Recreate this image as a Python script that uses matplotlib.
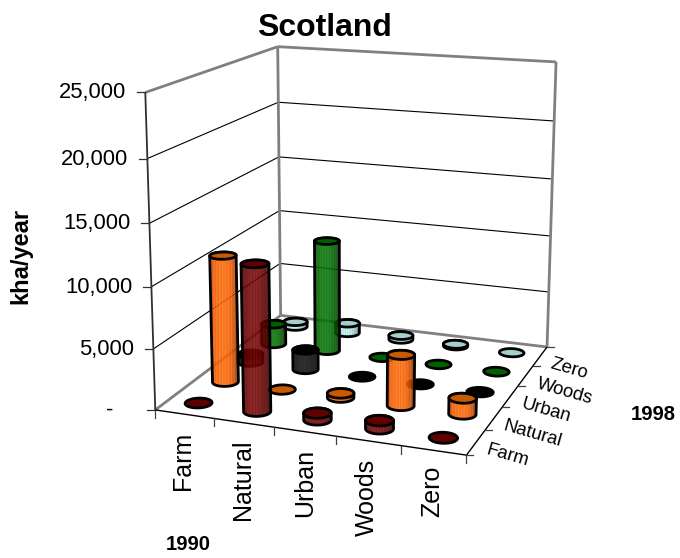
"""
Scotland land use change, 1990 to 1998, as a 3D cylinder chart
"""

import numpy as np
import matplotlib
matplotlib.use('Agg')
import matplotlib.pyplot as plt
from matplotlib.patches import Polygon

matplotlib.rcParams['font.family'] = ['Liberation Sans', 'DejaVu Sans']

categories = ['Farm', 'Natural', 'Urban', 'Woods', 'Zero']
z_ticks = [0, 5000, 10000, 15000, 20000, 25000]
z_tick_labels = ['-', '5,000', '10,000', '15,000', '20,000', '25,000']

# kha/year per 1990 class (columns) for each 1998 class
farm_1998 = [0, 11900, 550, 650, 0]
natural_1998 = [10700, 0, 350, 4200, 1300]
urban_1998 = [700, 1700, 0, 0, 0]
woods_1998 = [1800, 9800, 0, 0, 0]
zero_1998 = [450, 900, 350, 150, 0]
series = [farm_1998, natural_1998, urban_1998, woods_1998, zero_1998]

# (body colour, lid colour)
series_colours = [('#6b0000', '#600000'), ('#ff6000', '#c85a00'), ('#0a0a0a', '#000000'),
                  ('#006a00', '#006000'), ('#abdede', '#a6cfcf')]

Z_MAX = 25000.0
RADIUS = 0.21
BODY_ALPHA = 0.88
GREY = '#808080'

# box corners (category, series, value) and where they land on the canvas
box_points = [(0, 0, 0), (5, 0, 0), (5, 5, 0), (0, 5, 0), (0, 0, 25000), (0, 5, 25000), (5, 5, 25000)]
canvas_points = [(156, 410.5), (466, 455), (547.5, 347), (280, 315), (145, 92), (278, 47), (556, 62)]


def fit_camera(box, canvas):
    """Least squares 3x4 perspective matrix"""
    rows, rhs = [], []
    for (x, y, z), (u, v) in zip(box, canvas):
        z = z / Z_MAX * 5
        rows.append([x, y, z, 1, 0, 0, 0, 0, -u * x, -u * y, -u * z])
        rhs.append(u)
        rows.append([0, 0, 0, 0, x, y, z, 1, -v * x, -v * y, -v * z])
        rhs.append(v)
    p = np.linalg.lstsq(np.array(rows, float), np.array(rhs, float), rcond=None)[0]
    return np.append(p, 1.0).reshape(3, 4)


CAM = fit_camera(box_points, canvas_points)


def project(x, y, z):
    x, y, z = np.broadcast_arrays(np.asarray(x, float), np.asarray(y, float), np.asarray(z, float))
    pts = np.stack([x, y, z / Z_MAX * 5, np.ones_like(x)], axis=-1) @ CAM.T
    return pts[..., 0] / pts[..., 2], pts[..., 1] / pts[..., 2]


def edge(ax, a, b, color='black', lw=0.8, zorder=1):
    ua, va = project(*a)
    ub, vb = project(*b)
    ax.plot([ua, ub], [va, vb], color=color, lw=lw, zorder=zorder, solid_capstyle='butt')


def streak_image(colour, width=48):
    """One row of vertical streaks, darker towards the edges"""
    rgb = np.array(matplotlib.colors.to_rgb(colour))
    t = np.linspace(0, 1, width)
    shade = 1.02 - 0.4 * np.abs(2 * t - 0.85) ** 3
    shade += 0.08 * np.sin(t * 61) + 0.06 * np.sin(t * 137 + 1)
    row = np.clip(rgb[None, :] * shade[:, None] + 0.06 * (shade[:, None] > 1.05), 0, 1)
    alpha = np.full((width, 1), BODY_ALPHA)
    return np.concatenate([row, alpha], axis=1)[None, :, :]


def draw_cylinder(ax, i, j, value, body, lid, zorder):
    t = np.linspace(0, 2 * np.pi, 90, endpoint=False)
    cx = i + 0.5 + RADIUS * np.cos(t)
    cy = j + 0.5 + RADIUS * np.sin(t)
    ub, vb = project(cx, cy, 0)
    ut, vt = project(cx, cy, value)
    if value > 0:
        # outline = lower half of the base circle + upper half of the lid circle
        lo, hi = np.argmin(ub), np.argmax(ub)
        ub_r, vb_r = np.roll(ub, -lo), np.roll(vb, -lo)
        k = (hi - lo) % len(ub)
        arcs = [(ub_r[:k + 1], vb_r[:k + 1]), (np.append(ub_r[k:], ub_r[0]), np.append(vb_r[k:], vb_r[0]))]
        arc = max(arcs, key=lambda a: a[1].mean())
        if arc[0][0] > arc[0][-1]:
            arc = (arc[0][::-1], arc[1][::-1])
        lo, hi = np.argmin(ut), np.argmax(ut)
        ut_r, vt_r = np.roll(ut, -lo), np.roll(vt, -lo)
        k = (hi - lo) % len(ut)
        arcs = [(ut_r[:k + 1], vt_r[:k + 1]), (np.append(ut_r[k:], ut_r[0]), np.append(vt_r[k:], vt_r[0]))]
        top = min(arcs, key=lambda a: a[1].mean())
        if top[0][0] < top[0][-1]:
            top = (top[0][::-1], top[1][::-1])
        outline = np.column_stack([np.r_[arc[0], top[0]], np.r_[arc[1], top[1]]])

        clip = Polygon(outline, closed=True, facecolor='none', edgecolor='none', zorder=zorder)
        ax.add_patch(clip)
        im = ax.imshow(streak_image(body), extent=(outline[:, 0].min(), outline[:, 0].max(),
                                                   outline[:, 1].max(), outline[:, 1].min()),
                       aspect='auto', interpolation='bilinear', zorder=zorder)
        im.set_clip_path(clip)
        ax.add_patch(Polygon(outline, closed=True, facecolor='none', edgecolor='black',
                             lw=2.0, zorder=zorder + 0.1))
    ax.add_patch(Polygon(np.column_stack([ut, vt]), closed=True, facecolor=lid, edgecolor='black',
                         lw=2.0, zorder=zorder + 0.2))


fig = plt.figure(figsize=(6.8, 5.58), dpi=100)
ax = fig.add_axes([0, 0, 1, 1])
ax.autoscale(False)
ax.axis('off')

# back walls: gridlines first, frame on top
for z in z_ticks[1:-1]:
    edge(ax, (0, 0, z), (0, 5, z))
    edge(ax, (0, 5, z), (5, 5, z))
edge(ax, (0, 5, 0), (5, 5, 0), GREY, 2.0, 2)
edge(ax, (0, 0, 0), (0, 5, 0), GREY, 2.0, 2)
edge(ax, (0, 5, 0), (0, 5, Z_MAX), GREY, 2.0, 2)
edge(ax, (5, 5, 0), (5, 5, Z_MAX), GREY, 2.0, 2)
edge(ax, (0, 0, Z_MAX), (0, 5, Z_MAX), GREY, 2.0, 2)
edge(ax, (0, 5, Z_MAX), (5, 5, Z_MAX), GREY, 2.0, 2)

# front axes
edge(ax, (0, 0, 0), (0, 0, Z_MAX), '#303030', 1.3, 3)
edge(ax, (0, 0, 0), (5, 0, 0), 'black', 1.0, 3)
edge(ax, (5, 0, 0), (5, 5, 0), 'black', 1.0, 3)

for i in range(6):
    u, v = project(i, 0, 0)
    ax.plot([u, u], [v, v + 8], color='#404040', lw=0.9, zorder=3)
for j in range(6):
    u, v = project(5, j, 0)
    ax.plot([u, u + 7], [v, v], color='#404040', lw=0.9, zorder=3)
for z, label in zip(z_ticks, z_tick_labels):
    u, v = project(0, 0, z)
    ax.plot([u - 8, u], [v, v], color='#303030', lw=0.9, zorder=3)
    tx = u - 19 if z else 113
    ax.text(tx, v + 0.5, label, ha='right', va='center', fontsize=15.8, color='black')

# rows from the back to the front
order = 10
for j in reversed(range(len(series))):
    body, lid = series_colours[j]
    for i, value in enumerate(series[j]):
        draw_cylinder(ax, i, j, value, body, lid, order)
        order += 1

# text
ax.text(324.5, 28, 'Scotland', ha='center', va='center', fontsize=23, fontweight='bold')
ax.text(21, 256, 'kha/year', ha='center', va='center', rotation=90, fontsize=17, fontweight='bold')
ax.text(188, 545, '1990', ha='center', va='center', fontsize=14.6, fontweight='bold')
ax.text(653, 414, '1998', ha='center', va='center', fontsize=14.6, fontweight='bold')

cat_label_x = [183, 243, 305, 367, 432]
cat_label_top = [432, 439, 449, 459, 466]
for name, x, y in zip(categories, cat_label_x, cat_label_top):
    ax.text(x, y, name, rotation=90, ha='center', va='top', fontsize=18)

depth_label_x = [508, 533, 546, 565, 569]
depth_label_y = [456, 434, 411, 392, 369]
for name, x, y in zip(categories, depth_label_x, depth_label_y):
    ax.text(x, y, name, rotation=-16, ha='center', va='center', fontsize=13.4,
            rotation_mode='anchor')

ax.set_xlim(0, 680)
ax.set_ylim(558, 0)
fig.savefig('out.png', dpi=100)
